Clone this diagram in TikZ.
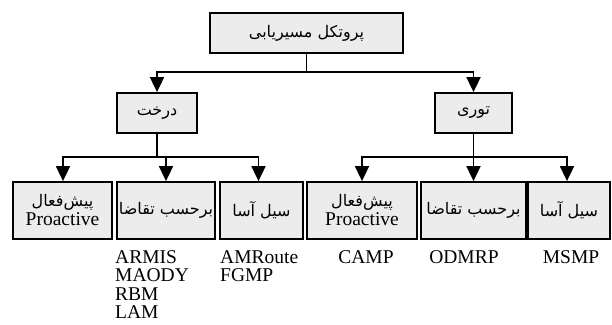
\documentclass[tikz,border=0pt]{standalone}
\usepackage{fontspec}
\setmainfont{Liberation Serif}
\newfontfamily\fa[Script=Arabic]{DejaVu Sans}
\TeXXeTstate=1
\usetikzlibrary{arrows.meta}
\newcommand{\rl}[1]{{\fa\fontsize{16}{19}\selectfont\beginR #1\endR}}
\begin{document}
\begin{tikzpicture}[x=1pt,y=-1pt,
  box/.style={draw,line width=1.8pt,fill=gray!15,inner sep=0pt,align=center,font=\fontsize{19.5}{20}\selectfont},
  conn/.style={line width=1.8pt},
  arr/.style={line width=1.8pt,-{Triangle[width=14pt,length=15pt]}},
  lbl/.style={inner sep=0pt,font=\fontsize{19.5}{18.5}\selectfont,align=left}]
\useasboundingbox (0,0) rectangle (612,324);
\node[box,minimum width=193pt,minimum height=40pt] (top) at (306.5,33) {\rl{پروتکل مسیریابی}};
\node[box,minimum width=80pt,minimum height=40pt] (tree) at (157,113) {\rl{درخت}};
\node[box,minimum width=77pt,minimum height=40pt] (mesh) at (473.5,113) {\rl{توری}};
\node[box,minimum width=99pt,minimum height=57pt] (t1) at (62.5,210.5) {\rl{پیش‌فعال}\\[-1pt]Proactive};
\node[box,minimum width=98pt,minimum height=57pt] (t2) at (166,210.5) {\rl{برحسب تقاضا}};
\node[box,minimum width=83pt,minimum height=57pt] (t3) at (261.5,210.5) {\rl{سیل آسا}};
\node[box,minimum width=110pt,minimum height=57pt] (m1) at (362,210.5) {\rl{پیش‌فعال}\\[-1pt]Proactive};
\node[box,minimum width=105pt,minimum height=57pt] (m2) at (473.5,210.5) {\rl{برحسب تقاضا}};
\node[box,minimum width=82pt,minimum height=57pt] (m3) at (569,210.5) {\rl{سیل آسا}};
\coordinate (j0) at (306.5,72);
\coordinate (j1) at (157,157);
\coordinate (j2) at (473.5,157);
\draw[conn] (top.south) -- (j0);
\draw[arr] (j0) -| (tree.north);
\draw[arr] (j0) -| (mesh.north);
\draw[conn] (tree.south) -- (j1);
\draw[arr] (j1) -| ([xshift=0.5pt]t1.north);
\draw[arr] (j1) -| (t2.north);
\draw[arr] (j1) -| ([xshift=-3pt]t3.north);
\draw[conn] (mesh.south) -- (j2);
\draw[arr] (j2) -| (m1.north);
\draw[arr] (j2) -| (m2.north);
\draw[arr] (j2) -| ([xshift=-2pt]m3.north);
\node[lbl,anchor=north west] (l2) at (115,250) {ARMIS\\MAODY\\RBM\\LAM};
\node[lbl,anchor=north west] (l3) at (220,250) {AMRoute\\FGMP};
\node[lbl,anchor=north] (l4) at (366,250) {CAMP};
\node[lbl,anchor=north] (l5) at (464,250) {ODMRP};
\node[lbl,anchor=north] (l6) at (571,250) {MSMP};
\end{tikzpicture}
\end{document}
